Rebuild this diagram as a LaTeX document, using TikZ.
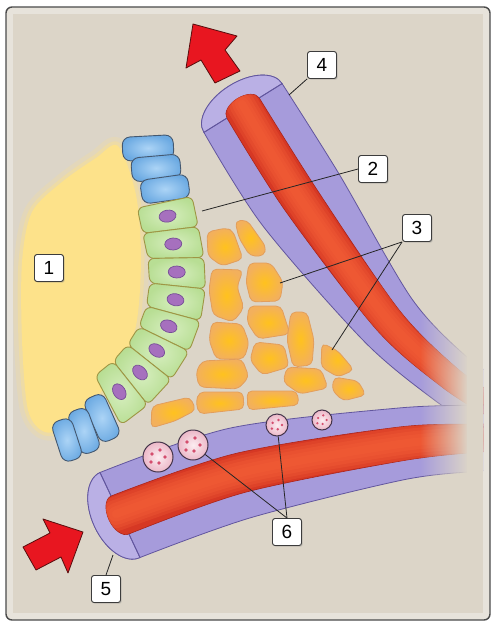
\documentclass[tikz,border=0pt]{standalone}
\usepackage{fontspec}
\newfontfamily\labelfont{Liberation Sans}
\usetikzlibrary{shapes.geometric,shadows,fadings,calc}

\definecolor{paper}{RGB}{220,213,200}
\definecolor{rim}{RGB}{231,227,219}
\definecolor{frameline}{RGB}{75,75,75}
\definecolor{lumen}{RGB}{253,226,138}
\definecolor{ginner}{RGB}{214,238,190}
\definecolor{gouter}{RGB}{184,222,148}
\definecolor{gline}{RGB}{158,150,68}
\definecolor{nfill}{RGB}{166,112,190}
\definecolor{nline}{RGB}{118,78,150}
\definecolor{binner}{RGB}{172,212,246}
\definecolor{bouter}{RGB}{108,170,226}
\definecolor{bline}{RGB}{68,88,112}
\definecolor{oinner}{RGB}{255,194,30}
\definecolor{oouter}{RGB}{243,176,92}
\definecolor{oline}{RGB}{226,158,92}
\definecolor{vside}{RGB}{166,155,219}
\definecolor{vface}{RGB}{186,176,229}
\definecolor{vline}{RGB}{98,86,158}
\definecolor{vred}{RGB}{214,56,36}
\definecolor{vredline}{RGB}{170,36,26}
\definecolor{vhl}{RGB}{246,98,56}
\definecolor{ared}{RGB}{232,22,32}
\definecolor{aline}{RGB}{88,14,14}
\definecolor{rinner}{RGB}{252,236,240}
\definecolor{router}{RGB}{236,184,200}
\definecolor{rline}{RGB}{68,52,74}
\definecolor{rdot}{RGB}{212,78,110}
\definecolor{tagline}{RGB}{60,60,60}

% transparent on the left, opaque on the right
\tikzfading[name=rightopaque, left color=transparent!100, right color=transparent!0]

\begin{document}
\begin{tikzpicture}[x=1pt,y=-1pt,
  gcell/.style={draw=gline, line width=0.9pt, rounded corners=6pt, line join=round,
    inner color=ginner, outer color=gouter},
  bcell/.style={draw=bline, line width=0.9pt, rounded corners=8pt, inner sep=0pt,
    inner color=binner, outer color=bouter},
  nuc/.style={ellipse, draw=nline, line width=0.7pt, fill=nfill, inner sep=0pt,
    minimum width=17pt, minimum height=12pt},
  icell/.style={draw=oline, line width=0.8pt, rounded corners=5pt, line join=round,
    inner color=oinner, outer color=oouter},
  tube/.style={fill=vside, draw=vline, line width=0.8pt, line join=round},
  face/.style={fill=vface, draw=vline, line width=0.8pt, line join=round},
  core/.style={fill=vred, draw=vredline, line width=0.6pt, line join=round},
  glow/.style={vhl, opacity=0.28, line cap=round},
  rbc/.style={circle, draw=rline, line width=1pt, inner sep=0pt,
    inner color=rinner, outer color=router},
  bigarrow/.style={fill=ared, draw=aline, line width=0.8pt, line join=round},
  tag/.style={draw=tagline, line width=0.9pt, fill=white, rounded corners=2.5pt,
    minimum width=29pt, minimum height=27pt, inner sep=0pt,
    font=\labelfont\fontsize{19}{19}\selectfont,
    drop shadow={shadow xshift=1.2pt, shadow yshift=-1.2pt, opacity=0.35}},
  lead/.style={draw=black!85, line width=0.8pt}
]
\useasboundingbox (0,0) rectangle (494,626);
\fill[white] (0,0) rectangle (494,626);

% frame
\filldraw[fill=rim, draw=frameline, line width=1.4pt, rounded corners=6pt] (6,7) rectangle (490,620);
\fill[paper] (13,14) rectangle (483,613);

% lumen
\draw[lumen, line width=16pt, opacity=0.22, line join=round] plot[smooth cycle] coordinates
  {(118,146) (136,195) (141,260) (135,330) (110,380) (72,424) (45,432) (28,410) (22,340) (22,262) (32,212) (62,182) (96,158)};
\draw[lumen, line width=7pt, opacity=0.4, line join=round] plot[smooth cycle] coordinates
  {(118,146) (136,195) (141,260) (135,330) (110,380) (72,424) (45,432) (28,410) (22,340) (22,262) (32,212) (62,182) (96,158)};
\fill[lumen] plot[smooth cycle] coordinates
  {(118,146) (136,195) (141,260) (135,330) (110,380) (72,424) (45,432) (28,410) (22,340) (22,262) (32,212) (62,182) (96,158)};

% interstitial cells
\path[icell] (207,232) -- (226,228) -- (233,231) -- (243,259) -- (222,266) -- (208,256) -- cycle;
\path[icell] (235,221) -- (247,220) -- (266,247) -- (264,256) -- (250,256) -- (239,238) -- cycle;
\path[icell] (212,269) -- (243,270) -- (237,287) -- (244,308) -- (233,322) -- (213,315) -- (209,290) -- cycle;
\path[icell] (249,263) -- (271,263) -- (283,282) -- (280,301) -- (251,302) -- (246,282) -- cycle;
\path[icell] (249,306) -- (281,306) -- (290,334) -- (258,339) -- (247,322) -- cycle;
\path[icell] (212,322) -- (242,324) -- (249,343) -- (244,359) -- (216,359) -- (209,340) -- cycle;
\path[icell] (255,342) -- (284,345) -- (289,367) -- (262,375) -- (250,360) -- cycle;
\path[icell] (291,312) -- (307,312) -- (314,340) -- (312,365) -- (293,367) -- (287,340) -- cycle;
\path[icell] (202,361) -- (242,359) -- (249,377) -- (238,389) -- (199,387) -- (196,372) -- cycle;
\path[icell] (287,367) -- (321,369) -- (328,388) -- (300,394) -- (283,382) -- cycle;
\path[icell] (322,343) -- (338,351) -- (354,370) -- (338,377) -- (321,367) -- cycle;
\path[icell] (334,377) -- (358,381) -- (366,395) -- (343,401) -- (332,390) -- cycle;
\path[icell] (247,391) -- (297,391) -- (299,405) -- (248,410) -- cycle;
\path[icell] (199,392) -- (243,392) -- (244,409) -- (199,414) -- (196,402) -- cycle;
\path[icell] (152,406) -- (190,397) -- (196,410) -- (175,421) -- (151,428) -- cycle;

\begin{scope}
\clip (13,14) rectangle (483,613);
% upper vessel
\path[tube] plot[smooth] coordinates {(203.9,132.4) (262.8,225.8) (364.6,341.8) (433.8,399.6) (481.2,430.1)}
  -- (508.8,385.9) -- plot[smooth] coordinates {(508.8,385.9) (466.2,356.4) (411.4,298.2) (339.2,174.2) (282.1,83.6)}
  .. controls (274.5,71.4) and (250.8,72.4) .. (229.2,85.9)
  .. controls (207.6,99.4) and (196.3,120.2) .. (203.9,132.4) -- cycle;
\path[face] (282.1,83.6) .. controls (274.5,71.4) and (250.8,72.4) .. (229.2,85.9)
  .. controls (207.6,99.4) and (196.3,120.2) .. (203.9,132.4) -- cycle;
\path[core] plot[smooth] coordinates {(226.9,118.1) (285.2,210.6) (377.05,330.2) (442.8,387.6) (489.2,417.4)}
  -- (500.8,398.7) -- plot[smooth] coordinates {(500.8,398.7) (457.2,368.4) (398.95,309.8) (316.8,189.4) (259.2,97.9)}
  .. controls (256,92.7) and (246.1,93.1) .. (237.2,98.65)
  .. controls (228.3,104.2) and (223.7,112.9) .. (226.9,118.1) -- cycle;
\begin{scope}
\clip plot[smooth] coordinates {(226.9,118.1) (285.2,210.6) (377.05,330.2) (442.8,387.6) (489.2,417.4)}
  -- (500.8,398.7) -- plot[smooth] coordinates {(500.8,398.7) (457.2,368.4) (398.95,309.8) (316.8,189.4) (259.2,97.9)}
  .. controls (256,92.7) and (246.1,93.1) .. (237.2,98.65)
  .. controls (228.3,104.2) and (223.7,112.9) .. (226.9,118.1) -- cycle;
\foreach \w in {32,26,20,14,8} {
  \draw[glow, line width=\w pt] plot[smooth] coordinates {(242,104) (301,200) (388,320) (450,378) (495,408)};
}
\end{scope}
\draw[vline, line width=0.8pt] (203.9,132.4) -- (226.9,118.1);
\draw[vline, line width=0.8pt] (259.2,97.9) -- (282.1,83.6);

% lower vessel
\path[tube] plot[smooth] coordinates {(100,472.5) (229.6,428.2) (396.4,408.2) (480,405) (520,404)}
  -- (520,468) -- plot[smooth] coordinates {(520,468) (480,471) (403.6,479.8) (250.4,517.8) (140,557.5)}
  .. controls (126,564.1) and (105.75,550.4) .. (94.7,526.9)
  .. controls (83.65,503.4) and (86,479.1) .. (100,472.5) -- cycle;
\path[face] (100,472.5) .. controls (86,479.1) and (83.65,503.4) .. (94.7,526.9)
  .. controls (105.75,550.4) and (126,564.1) .. (140,557.5) -- cycle;
\path[core] plot[smooth] coordinates {(111.1,496) (235.5,453.5) (398.3,427.1) (480,424) (520,422)}
  -- (520,450) -- plot[smooth] coordinates {(520,450) (480,452) (401.7,460.9) (244.5,492.5) (128.9,534)}
  .. controls (122.9,536.8) and (114,530.6) .. (109.1,520.1)
  .. controls (104.2,509.6) and (105.1,498.8) .. (111.1,496) -- cycle;
\begin{scope}
\clip plot[smooth] coordinates {(111.1,496) (235.5,453.5) (398.3,427.1) (480,424) (520,422)}
  -- (520,450) -- plot[smooth] coordinates {(520,450) (480,452) (401.7,460.9) (244.5,492.5) (128.9,534)}
  .. controls (122.9,536.8) and (114,530.6) .. (109.1,520.1)
  .. controls (104.2,509.6) and (105.1,498.8) .. (111.1,496) -- cycle;
\foreach \w in {34,28,22,15,8} {
  \draw[glow, line width=\w pt] plot[smooth] coordinates {(116,514) (240,473) (400,444) (480,438) (520,436)};
}
\end{scope}
\draw[vline, line width=0.8pt] (100,472.5) -- (111.1,496);
\draw[vline, line width=0.8pt] (128.9,534) -- (140,557.5);

% vessels fade out towards the right
\fill[paper, path fading=rightopaque] (420,285) rectangle (468,500);
\fill[paper] (467,285) rectangle (483,500);
\end{scope}

% epithelium: top blue cells
\node[bcell, rotate=3, minimum width=51pt, minimum height=24pt] (bt1) at (148,148) {};
\node[bcell, rotate=5, minimum width=49pt, minimum height=24pt] (bt2) at (156,168) {};
\node[bcell, rotate=8, minimum width=48pt, minimum height=24pt] (bt3) at (165,189) {};

% green cells: wedges between shared boundaries (inner end, outer end)
\coordinate (i0) at (137.2,208.0); \coordinate (o0) at (192.0,196.4);
\coordinate (i1) at (142.7,233.4); \coordinate (o1) at (198.3,226.6);
\coordinate (i2) at (148.0,258.5); \coordinate (o2) at (204.0,257.5);
\coordinate (i3) at (149.6,283.1); \coordinate (o3) at (205.4,288.9);
\coordinate (i4) at (146.5,306.2); \coordinate (o4) at (200.5,320.8);
\coordinate (i5) at (138.8,326.7); \coordinate (o5) at (189.2,351.3);
\coordinate (i6) at (127.6,344.6); \coordinate (o6) at (171.4,379.4);
\coordinate (i7) at (113.1,361.1); \coordinate (o7) at (147.9,404.9);
\coordinate (i8) at (95.0,375.7);  \coordinate (o8) at (121.2,425.1);
\foreach \i/\j/\a in {1/0/10, 2/1/4, 3/2/-2, 4/3/-10, 5/4/-20, 6/5/-32, 7/6/-45, 8/7/-58} {
  \path[gcell] (i\j) -- (o\j) -- (o\i) -- (i\i) -- cycle;
  \node[nuc, rotate=\a] (n\i) at ($0.25*(i\j)+0.25*(o\j)+0.25*(o\i)+0.25*(i\i)$) {};
}

% bottom blue cells
\node[bcell, rotate=-66, minimum width=47pt, minimum height=22pt] (bb1) at (102,418) {};
\node[bcell, rotate=-70, minimum width=45pt, minimum height=21pt] (bb2) at (84,431) {};
\node[bcell, rotate=-72, minimum width=42pt, minimum height=21pt] (bb3) at (67,440) {};

% cells inside the lower vessel wall
\node[rbc, minimum size=30pt] (rbc1) at (158,457) {};
\node[rbc, minimum size=30pt] (rbc2) at (193,445) {};
\node[rbc, minimum size=22pt] (rbc3) at (277,425) {};
\node[rbc, minimum size=20pt] (rbc4) at (322,420) {};
\foreach \n/\s in {rbc1/1, rbc2/1, rbc3/0.72, rbc4/0.66} {
  \foreach \dx/\dy in {-6/-3, 2/-7, 7/0, 1/6, -7/5} {
    \fill[rdot] ($(\n.center)+(\s*\dx,\s*\dy)$) circle[radius=\s*1.9pt];
  }
}

% flow arrows
\path[bigarrow] (193,24) -- (237,36) -- (225,50) -- (240,71) -- (215,83) -- (201,60) -- (186,68) -- cycle;
\path[bigarrow] (83,532) -- (68,573) -- (61,557) -- (36,570) -- (23,547) -- (50,533) -- (43,519) -- cycle;

% labels and leaders
\node[tag] (lbl1) at (49,268) {1};
\node[tag] (lbl2) at (373,169) {2};
\node[tag] (lbl3) at (417,228) {3};
\node[tag] (lbl4) at (322,65) {4};
\node[tag] (lbl5) at (106,589) {5};
\node[tag] (lbl6) at (287,532) {6};

\coordinate (e2) at (202,211);
\coordinate (e3a) at (280,283);
\coordinate (e3b) at (332,350);
\coordinate (e4) at (289,95);
\coordinate (e5) at (113,555);

\draw[lead] (lbl2.west) -- (e2);
\draw[lead] (lbl3.south west) -- (e3a);
\draw[lead] (lbl3.south west) -- (e3b);
\draw[lead] (lbl4.south west) -- (e4);
\draw[lead] (lbl5.north) -- (e5);
\draw[lead] (lbl6.north) -- (rbc2);
\draw[lead] (lbl6.north) -- (rbc3);
\end{tikzpicture}
\end{document}
